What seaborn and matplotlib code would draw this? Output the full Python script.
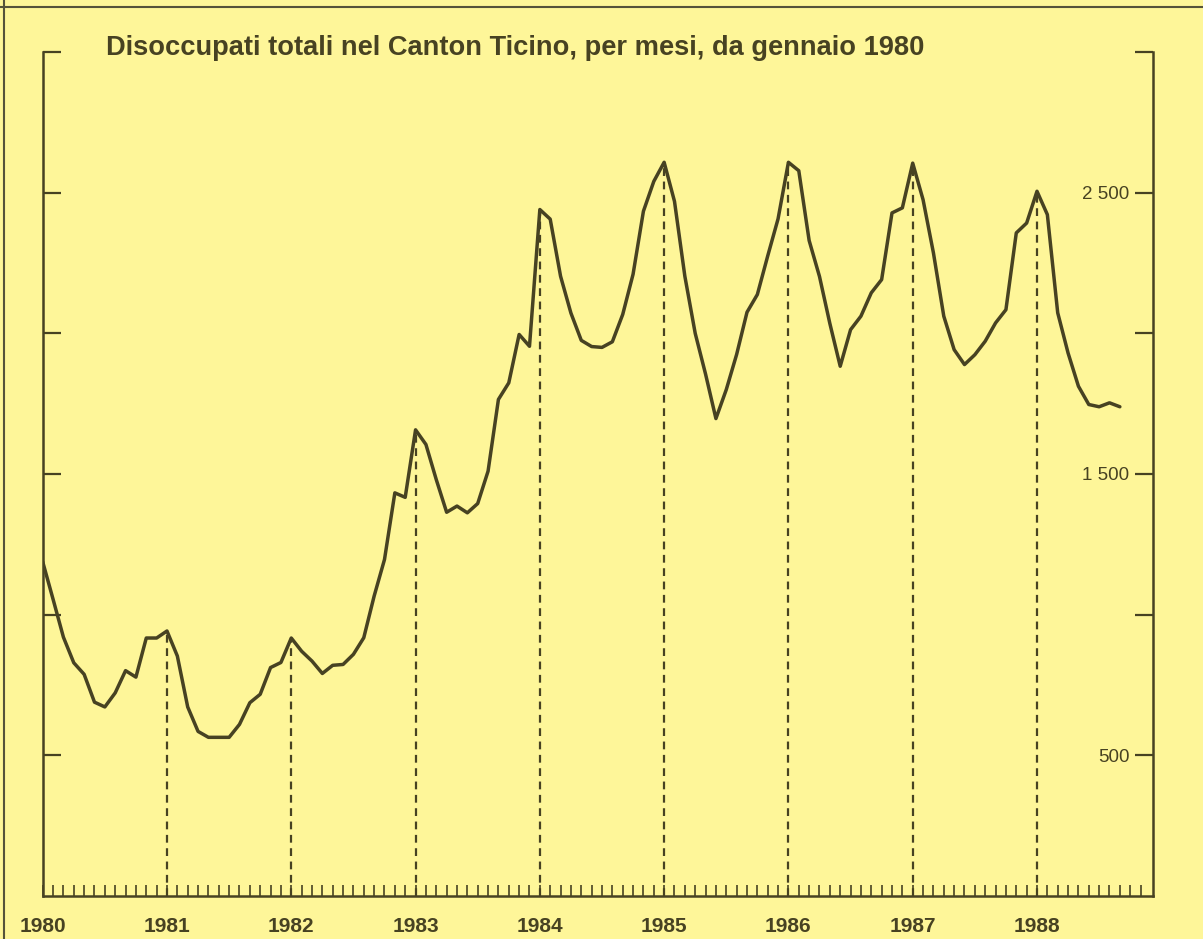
import seaborn as sns
import matplotlib.pyplot as plt
from matplotlib.lines import Line2D
from matplotlib.ticker import FuncFormatter
import pandas as pd
import numpy as np

sns.set_theme(style='ticks')
plt.rcParams['font.family'] = ['Liberation Sans', 'DejaVu Sans']

# disoccupati totali, mensili da gennaio 1980 a settembre 1988
disoccupati = [
    1188, 1055, 920, 829, 788, 689, 672, 722, 801, 778, 917, 917,      # 1980
    942, 853, 672, 585, 564, 564, 564, 610, 687, 717, 812, 830,        # 1981
    917, 870, 835, 791, 820, 823, 859, 918, 1066, 1196, 1433, 1417,    # 1982
    1657, 1605, 1480, 1364, 1386, 1362, 1395, 1510, 1765, 1824, 1996, 1954,  # 1983
    2440, 2406, 2203, 2072, 1975, 1953, 1950, 1970, 2067, 2210, 2434, 2540,  # 1984
    2608, 2469, 2203, 2000, 1855, 1697, 1800, 1925, 2075, 2138, 2275, 2407,  # 1985
    2608, 2578, 2330, 2202, 2035, 1883, 2013, 2061, 2144, 2191, 2428, 2446,  # 1986
    2605, 2475, 2286, 2061, 1942, 1889, 1924, 1972, 2037, 2084, 2357, 2392,  # 1987
    2505, 2422, 2073, 1930, 1812, 1747, 1739, 1753, 1739,              # 1988
]
anni = [1980, 1981, 1982, 1983, 1984, 1985, 1986, 1987, 1988]
etichette_y = [500, 1500, 2500]
titolo = 'Disoccupati totali nel Canton Ticino, per mesi, da gennaio 1980'

df = pd.DataFrame({'mese': np.arange(len(disoccupati)), 'disoccupati': disoccupati})

sfondo = '#fef699'
inchiostro = '#474222'

fig = plt.figure(figsize=(12.03, 9.39), dpi=100, facecolor=sfondo)
ax = fig.add_axes([42.7 / 1203, 43 / 939, (1153 - 42.7) / 1203, 844 / 939])
ax.set_facecolor(sfondo)

sns.lineplot(data=df, x='mese', y='disoccupati', color=inchiostro, lw=2.5, ax=ax)

# linee tratteggiate a ogni gennaio
gennaio = [12 * k for k in range(1, len(anni))]
ax.vlines(gennaio, 0, [disoccupati[m] for m in gennaio], colors=inchiostro,
          linestyles=(0, (3.5, 2.5)), lw=1.6)

ax.set_xlim(0, 107.2)
ax.set_ylim(0, 3000)

# asse x: anni e tacche mensili
ax.set_xticks([12 * k for k in range(len(anni))])
ax.set_xticklabels([str(a) for a in anni], fontsize=15, fontweight='bold')
ax.set_xticks(np.arange(1, 107), minor=True)
ax.tick_params(axis='x', which='both', direction='in', length=8, width=1.2,
               bottom=True, top=False, colors=inchiostro)
ax.tick_params(axis='x', which='major', pad=15)

# asse y: tacche su entrambi i lati, etichette a destra all'interno
ax.set_yticks(np.arange(500, 3001, 500))
ax.yaxis.set_major_formatter(FuncFormatter(
    lambda v, p: f'{int(v):,}'.replace(',', ' ') if int(v) in etichette_y else ''))
ax.tick_params(axis='y', direction='in', length=13, width=1.6, left=True, right=True,
               labelleft=False, labelright=True, pad=-17, labelsize=13.5, colors=inchiostro)
for t in ax.yaxis.get_major_ticks():
    t.label2.set_horizontalalignment('right')

ax.set_xlabel('')
ax.set_ylabel('')
ax.spines['top'].set_visible(False)
for s in ['left', 'right', 'bottom']:
    ax.spines[s].set_linewidth(1.8)
    ax.spines[s].set_color(inchiostro)

fig.text(106 / 1203, 1 - 48 / 939, titolo, ha='left', va='center', fontsize=19.6,
         fontweight='bold', color=inchiostro)

# bordo della pagina
fig.add_artist(Line2D([0, 1], [1 - 7 / 939] * 2, transform=fig.transFigure, color='#55533a', lw=1.5))
fig.add_artist(Line2D([4 / 1203] * 2, [0, 1], transform=fig.transFigure, color='#55533a', lw=1.5))

plt.savefig('out.png', dpi=100, facecolor=sfondo)
